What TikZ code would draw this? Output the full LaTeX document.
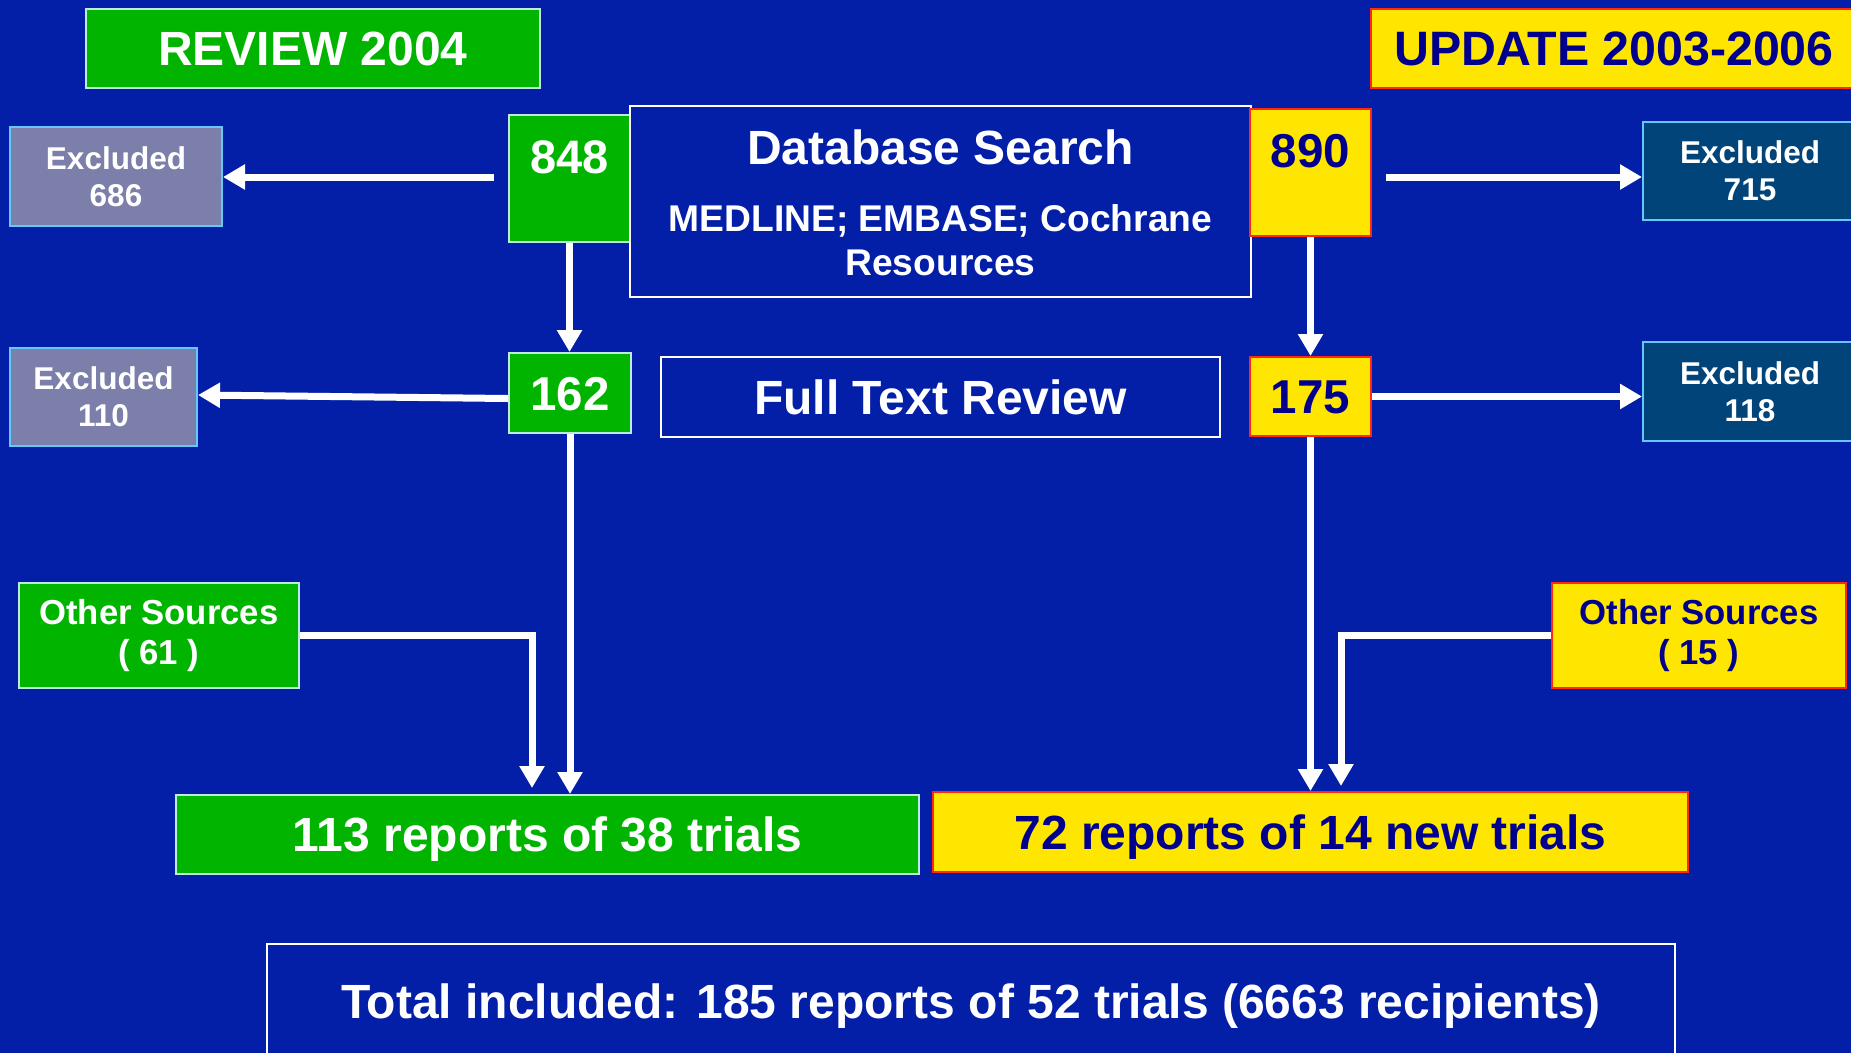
\documentclass[tikz,border=0pt]{standalone}
\usepackage{fontspec}
\setmainfont{Liberation Sans}
\usetikzlibrary{arrows.meta,calc}
\definecolor{bgblue}{RGB}{3,31,168}
\definecolor{grn}{RGB}{0,180,0}
\definecolor{grnline}{RGB}{190,235,225}
\definecolor{ylw}{RGB}{255,230,0}
\definecolor{redline}{RGB}{255,40,20}
\definecolor{navy}{RGB}{0,0,140}
\definecolor{grayx}{RGB}{123,127,170}
\definecolor{tealx}{RGB}{0,68,122}
\definecolor{ltblue}{RGB}{100,200,255}
\begin{document}
\begin{tikzpicture}[x=1pt,y=-1pt,
  box/.style={draw, line width=2pt, inner sep=0pt, align=center},
  greenbox/.style={box, fill=grn, draw=grnline, text=white},
  yellowbox/.style={box, fill=ylw, draw=redline, text=navy},
  grayex/.style={box, fill=grayx, draw=ltblue, text=white},
  tealex/.style={box, fill=tealx, draw=ltblue, text=white},
  outline/.style={box, draw=white, text=white},
  sz/.style 2 args={minimum width=#1pt, minimum height=#2pt},
  fs/.style 2 args={font=\fontsize{#1}{#2}\selectfont\bfseries},
  capht/.style={text height=#1pt, text depth=0pt},
  arr/.style={draw=white, line width=7pt, -{Triangle[length=22pt,width=24pt]}},
]
\useasboundingbox (0,0) rectangle (1851,1053);
\fill[bgblue] (0,0) rectangle (1851,1053);
\clip (0,0) rectangle (1851,1053);

% headers
\node[greenbox, sz={454}{79}, fs={48}{56}, capht=34] (review) at (313,48.5) {REVIEW 2004};
\node[yellowbox, sz={486}{79}, fs={48.3}{56}, capht=34] (update) at (1614,48.5) {UPDATE 2003-2006};

% row 1
\node[grayex, sz={212}{99}, fs={31.5}{37}] (ex686) at (116,176.5) {Excluded\\686};
\node[greenbox, sz={121}{127}] (n848) at (569.5,178.5) {};
\node[fs={47}{56}, capht=34, text=white, inner sep=0pt] (t848) at (569.5,156) {848};
\node[outline, sz={621}{191}] (db) at (940.5,201.5) {};
\node[text=white, fs={48}{54}, capht=34, inner sep=0pt] (dbt) at (940.5,147) {Database Search};
\node[text=white, fs={37.2}{43}, capht=26.5, inner sep=0pt] (dbm) at (940.5,218.5) {MEDLINE; EMBASE; Cochrane};
\node[text=white, fs={37.2}{43}, capht=26.5, inner sep=0pt] (dbr) at (940.5,262.5) {Resources};
\node[yellowbox, sz={121}{127}] (n890) at (1310.5,172.5) {};
\node[text=navy, fs={47.5}{56}, capht=34, inner sep=0pt] (t890) at (1310.5,150) {890};
\node[tealex, sz={214}{98}, fs={31.5}{37}] (ex715) at (1750,171) {Excluded\\715};

% row 2
\node[greenbox, sz={122}{80}, fs={47.5}{56}, capht=34] (n162) at (570,393) {162};
\node[grayex, sz={187}{98}, fs={31.5}{37}] (ex110) at (103.5,397) {Excluded\\110};
\node[outline, sz={559}{80}, fs={48}{54}, capht=34] (ftr) at (940.5,397) {Full Text Review};
\node[yellowbox, sz={121}{79}, fs={47.5}{56}, capht=34] (n175) at (1310.5,396.5) {175};
\node[tealex, sz={214}{99}, fs={31.5}{37}] (ex118) at (1750,391.5) {Excluded\\118};

% other sources
\node[greenbox, sz={280}{105}, fs={34.7}{40}] (os61) at (159,635.5) {Other Sources\\( 61 )};
\node[yellowbox, sz={294}{105}, fs={34.7}{40}] (os15) at (1699,635.5) {Other Sources\\( 15 )};

% results
\node[greenbox, sz={743}{79}, fs={48}{56}, capht=34] (r113) at (547.5,834.5) {113 reports of 38 trials};
\node[yellowbox, sz={755}{80}, fs={48}{56}, capht=34] (r72) at (1310.5,832) {72 reports of 14 new trials};
\node[outline, sz={1408}{114}, fs={48}{56}, capht=34] (total) at (971,1001) {Total included: 185 reports of 52 trials (6663 recipients)};

% connectors
\coordinate (a848) at (494,177);
\draw[arr] (a848) -- (a848 -| ex686.east);
\draw[arr] (n848.south) -- (n848.south |- n162.north);
\coordinate (a162) at (509,398.5);
\coordinate (b110) at (197,395);
\draw[arr] (a162 -| n162.west) -- (b110 -| ex110.east);
\coordinate (a890) at (1386,177);
\draw[arr] (a890) -- (a890 -| ex715.west);
\draw[arr] (n890.south) -- (n890.south |- n175.north);
\draw[arr] (n175.east) -- (n175.east -| ex118.west);
\draw[arr] (n162.south) -- (n162.south |- r113.north);
\coordinate (j61) at (532,788);
\draw[arr] (os61.east) -| (j61);
\draw[arr] (n175.south) -- (n175.south |- r72.north);
\coordinate (j15) at (1341,786);
\draw[arr] (os15.west) -| (j15);
\end{tikzpicture}
\end{document}
